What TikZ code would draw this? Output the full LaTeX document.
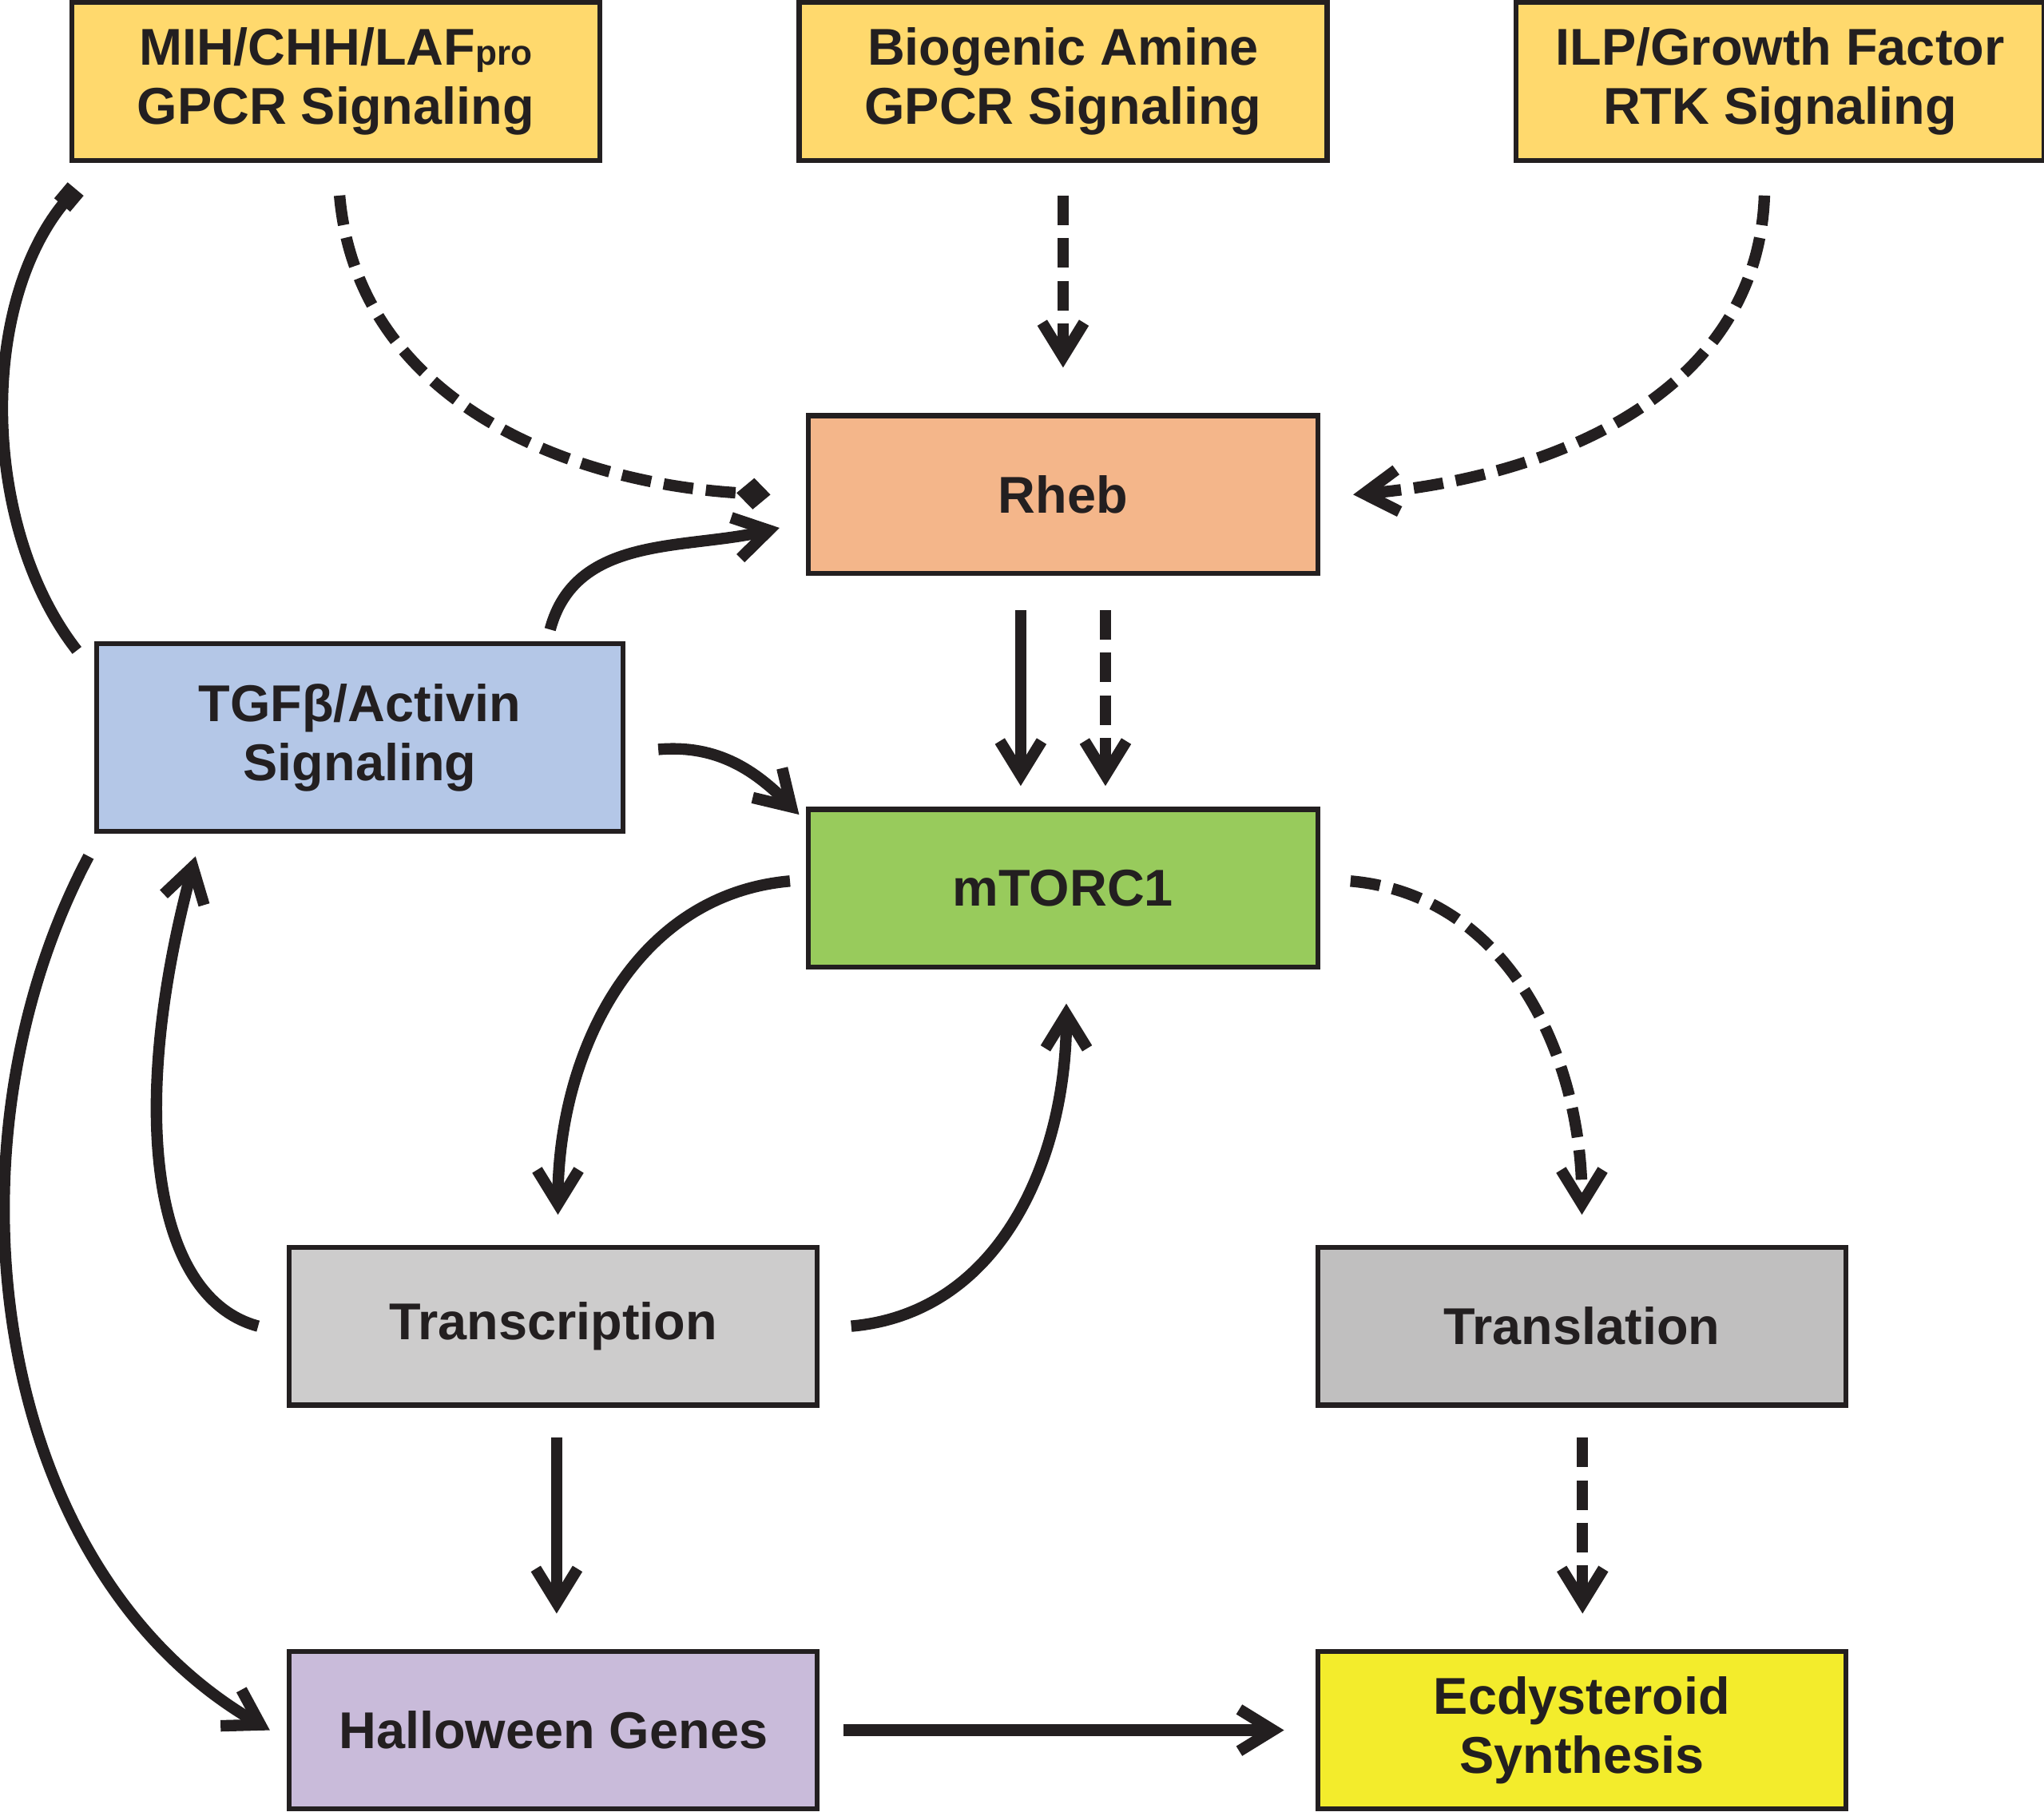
\documentclass[tikz,border=0pt]{standalone}
\usepackage{fontspec}
\setmainfont{Liberation Sans}
\usetikzlibrary{positioning,arrows.meta}
\definecolor{ink}{HTML}{231F20}
\definecolor{gold}{HTML}{FFD96D}
\definecolor{salmon}{HTML}{F4B68A}
\definecolor{skyblue}{HTML}{B4C7E7}
\definecolor{leaf}{HTML}{98CB5C}
\definecolor{lgray}{HTML}{CDCCCC}
\definecolor{mgray}{HTML}{C0BFBF}
\definecolor{lilac}{HTML}{C9BBDA}
\definecolor{lemon}{HTML}{F3EC2C}

\begin{document}
\begin{tikzpicture}[node distance=1cm,
	box/.style={draw=ink,line width=1.1pt,minimum width=4.05cm,minimum height=1.21cm,
		align=center,text=ink,inner sep=0pt,outer sep=0pt,
		font=\fontsize{11.3}{12.8}\selectfont\bfseries},
	act/.style={draw=ink,line width=2.5pt,-{Straight Barb[length=2.6mm,width=3.2mm]}},
	dsh/.style={act,dash pattern=on 6.5pt off 2.8pt}]
	\useasboundingbox (0,0) rectangle (15.68,-13.90);

	\node[box,fill=gold] (mih) at (2.575,-0.625) {MIH/CHH/LAF{\fontsize{7.7}{8}\selectfont pro}\\GPCR Signaling};
	\node[box,fill=gold] (bio) [right=1.53cm of mih] {Biogenic Amine\\GPCR Signaling};
	\node[box,fill=gold] (ilp) [right=1.45cm of bio] {ILP/Growth Factor\\RTK Signaling};
	\node[box,fill=salmon,minimum width=3.91cm] (rheb) [below=1.96cm of bio] {Rheb};
	\node[box,fill=leaf,minimum width=3.91cm] (mtor) [below=1.81cm of rheb] {mTORC1};
	\node[box,fill=skyblue,minimum width=4.04cm,minimum height=1.44cm] (tgf) at (2.76,-5.66) {TGFβ/Activin\\Signaling};
	\node[box,fill=lgray] (trc) at (4.245,-10.175) {Transcription};
	\node[box,fill=mgray] (trl) [right=3.84cm of trc] {Translation};
	\node[box,fill=lilac] (hal) [below=1.89cm of trc] {Halloween Genes};
	\node[box,fill=lemon] (ecd) [below=1.89cm of trl] {Ecdysteroid\\Synthesis};

	% inputs to Rheb
	\draw ([xshift=.03cm,yshift=-.27cm]mih.south) edge[dsh,-{Diamond[length=2.6mm,width=2.4mm]},out=-85,in=177] ([xshift=-.29cm]rheb.west)
		([yshift=-.27cm]bio.south) edge[dsh] ([yshift=.37cm]rheb.north)
		([xshift=-.12cm,yshift=-.27cm]ilp.south) edge[dsh,out=-92,in=5] ([xshift=.27cm]rheb.east);

	% Rheb to mTORC1
	\draw ([xshift=-.325cm,yshift=-.28cm]rheb.south) edge[act] ([xshift=-.325cm,yshift=.18cm]mtor.north)
		([xshift=.325cm,yshift=-.28cm]rheb.south) edge[dsh] ([xshift=.325cm,yshift=.18cm]mtor.north);

	% TGFb/Activin
	\draw ([xshift=1.46cm,yshift=.11cm]tgf.north) edge[act,out=75,in=193] ([xshift=-.22cm,yshift=-.255cm]rheb.west)
		([xshift=.27cm,yshift=-.09cm]tgf.east) edge[act,out=5,in=135] ([xshift=-.07cm,yshift=-.04cm]mtor.north west)
		([xshift=-.15cm,yshift=-.05cm]tgf.north west) edge[act,-{Square[length=1.6mm,width=1.6mm]},out=128,in=-130,looseness=.85] ([xshift=.03cm,yshift=-.22cm]mih.south west)
		([xshift=-.06cm,yshift=-.19cm]tgf.south west) edge[act,out=-118,in=150,looseness=.93] ([xshift=-.15cm]hal.west);

	% mTORC1 loops
	\draw ([xshift=-.14cm,yshift=.055cm]mtor.west) edge[act,out=185,in=90] ([xshift=.035cm,yshift=.25cm]trc.north)
		([xshift=.26cm]trc.east) edge[act,out=5,in=-90] ([xshift=.025cm,yshift=-.28cm]mtor.south)
		([xshift=-.24cm]trc.west) edge[act,out=165,in=-105,out looseness=.6,in looseness=1.4] ([xshift=.76cm,yshift=-.19cm]tgf.south west)
		([xshift=.25cm,yshift=.055cm]mtor.east) edge[dsh,out=-5,in=90] ([yshift=.25cm]trl.north);

	% to the bottom row
	\draw ([xshift=.025cm,yshift=-.25cm]trc.south) edge[act] ([xshift=.025cm,yshift=.29cm]hal.north)
		([xshift=.005cm,yshift=-.25cm]trl.south) edge[dsh] ([xshift=.005cm,yshift=.29cm]ecd.north)
		([xshift=.2cm]hal.east) edge[act] ([xshift=-.26cm]ecd.west);
\end{tikzpicture}
\end{document}
